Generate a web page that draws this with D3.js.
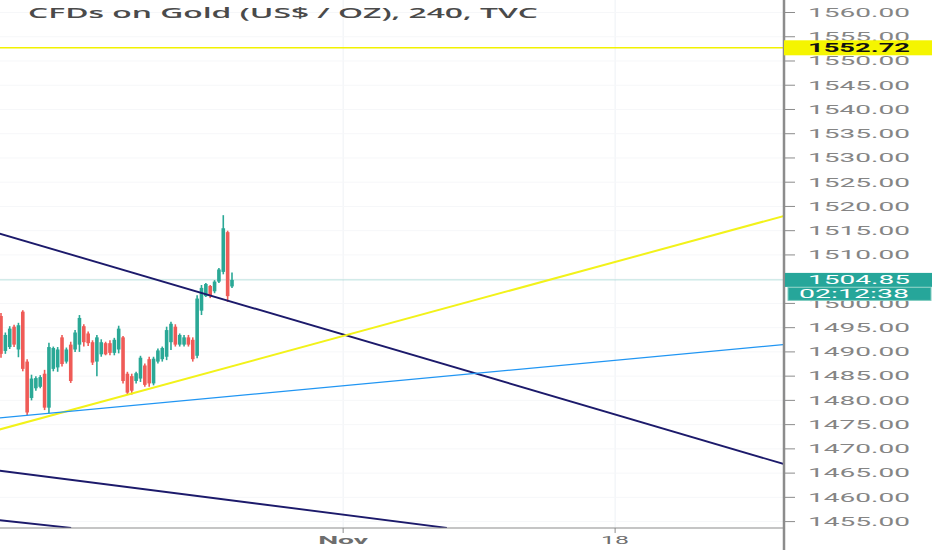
<!DOCTYPE html>
<html>
<head>
<meta charset="utf-8">
<script src="https://cdn.jsdelivr.net/npm/d3@7"></script>
<style>
body { margin: 0; background: #fff; }
svg { display: block; }
</style>
</head>
<body>
<div id="chart-area"></div>
<script>
// 4h candles, left to right
var opens  = [1497.4,1490.2,1491.0,1495.2,1490.5,1498.3,1488.0,1480.5,1482.5,1482.8,1485.5,1478.5,1486.5,1486.8,1493.0,1488.0,1491.5,1490.5,1491.5,1495.3,1493.8,1492.0,1488.0,1489.5,1491.8,1491.8,1489.8,1490.5,1493.0,1485.5,1485.0,1484.0,1484.5,1487.2,1488.5,1483.5,1488.0,1488.5,1489.0,1492.0,1495.2,1491.5,1491.5,1493.0,1492.5,1489.2,1498.5,1501.5,1503.6,1502.5,1504.5,1506.5,1514.7,1503.5];
var highs  = [1498.0,1494.0,1495.3,1495.6,1496.0,1498.6,1488.5,1485.3,1485.0,1485.2,1486.3,1491.9,1491.1,1491.0,1493.5,1490.9,1492.1,1494.5,1497.6,1495.7,1494.2,1492.4,1493.5,1492.6,1492.1,1492.4,1492.9,1495.4,1493.3,1485.9,1485.5,1485.9,1489.2,1487.6,1489.0,1489.0,1490.7,1491.1,1495.2,1496.2,1495.7,1493.8,1493.5,1493.5,1493.0,1501.7,1503.8,1504.2,1503.8,1504.8,1507.3,1518.2,1515.0,1506.4];
var lows   = [1488.8,1489.6,1490.6,1491.0,1488.9,1486.0,1477.0,1480.0,1482.0,1482.5,1478.0,1477.3,1486.0,1485.9,1487.0,1487.6,1483.6,1490.0,1490.0,1491.1,1491.2,1487.3,1485.0,1489.0,1489.3,1489.3,1489.3,1489.7,1483.5,1481.1,1481.2,1483.5,1483.8,1482.8,1482.8,1483.1,1487.6,1488.0,1488.3,1490.4,1491.1,1491.1,1491.1,1491.1,1488.0,1488.7,1497.6,1501.3,1501.1,1502.1,1504.2,1506.0,1500.3,1503.2];
var closes = [1489.6,1493.5,1494.8,1491.5,1495.5,1486.5,1477.5,1484.5,1484.6,1484.8,1478.5,1491.0,1490.8,1490.5,1487.5,1490.5,1484.0,1494.0,1497.0,1492.0,1491.8,1487.8,1493.0,1492.0,1489.5,1489.8,1492.5,1494.8,1484.0,1481.6,1482.0,1485.6,1488.8,1483.2,1483.5,1488.6,1490.3,1490.8,1494.5,1495.8,1491.5,1493.5,1493.0,1491.5,1488.5,1501.0,1503.2,1504.0,1501.5,1504.5,1507.0,1515.5,1501.5,1504.85];

var priceTicks = [1455,1460,1465,1470,1475,1480,1485,1490,1495,1500,1505,1510,1515,1520,1525,1530,1535,1540,1545,1550,1555,1560];
var dateTicks = [78.5, 140.9];          // bar index of the day labels
var dateLabels = ["Nov", "18"];

// drawings: [barIndex, price] pairs
var navyLines = [
  [[-0.3, 1514.4], [179.5, 1466.9]],
  [[-0.3, 1465.5], [102.3, 1453.7]],
  [[-0.3, 1455.3], [16.1, 1453.7]]
];
var yellowTrend = [[-0.3, 1474.0], [179.5, 1518.0]];
var blueTrend = [[-0.3, 1476.4], [179.5, 1491.5]];
var alertLevel = 1552.72;
var lastPrice = 1504.85;
var countdown = "02:12:38";
var title = "CFDs on Gold (US$ / OZ), 240, TVC";

var W = 932, H = 550;
var plotW = 783, plotH = 528;

var svg = d3.select("#chart-area").append("svg")
  .attr("width", W)
  .attr("height", H);

var x = d3.scaleLinear().domain([0, 53]).range([1, 232]);
var y = d3.scaleLinear().domain([1455, 1560]).range([521.6, 12.5]);

svg.append("clipPath").attr("id", "plot-clip")
  .append("rect").attr("x", 0).attr("y", 0).attr("width", plotW).attr("height", plotH);

var plot = svg.append("g").attr("clip-path", "url(#plot-clip)");

// grid
plot.selectAll(".vgrid").data(dateTicks).enter().append("line")
  .attr("x1", function(d){ return x(d); }).attr("x2", function(d){ return x(d); })
  .attr("y1", 0).attr("y2", plotH)
  .attr("stroke", "#eef1f5").attr("stroke-width", 1);

plot.selectAll(".hgrid").data(priceTicks).enter().append("line")
  .attr("x1", 0).attr("x2", plotW)
  .attr("y1", function(d){ return y(d); }).attr("y2", function(d){ return y(d); })
  .attr("stroke", "#f6f7f9").attr("stroke-width", 1);

// last price line
plot.append("line")
  .attr("x1", 0).attr("x2", plotW)
  .attr("y1", y(lastPrice)).attr("y2", y(lastPrice))
  .attr("stroke", "#26a69a").attr("stroke-opacity", 0.3).attr("stroke-width", 1);

// alert level
plot.append("line")
  .attr("x1", 0).attr("x2", plotW)
  .attr("y1", y(alertLevel)).attr("y2", y(alertLevel))
  .attr("stroke", "#f2f200").attr("stroke-width", 1.5);

var line = d3.line()
  .x(function(d){ return x(d[0]); })
  .y(function(d){ return y(d[1]); });

// candles
var idx = d3.range(opens.length);
var col = function(i){ return closes[i] >= opens[i] ? "#2aa896" : "#ef5b57"; };

plot.selectAll(".wick").data(idx).enter().append("line")
  .attr("x1", function(i){ return x(i); }).attr("x2", function(i){ return x(i); })
  .attr("y1", function(i){ return y(highs[i]); })
  .attr("y2", function(i){ return y(lows[i]); })
  .attr("stroke", col).attr("stroke-width", 1.6);

plot.selectAll(".body").data(idx).enter().append("rect")
  .attr("x", function(i){ return x(i) - 1.8; })
  .attr("width", 3.6)
  .attr("y", function(i){ return y(Math.max(opens[i], closes[i])); })
  .attr("height", function(i){ return Math.max(1, Math.abs(y(opens[i]) - y(closes[i]))); })
  .attr("fill", col);

// trend lines
plot.selectAll(".navy").data(navyLines).enter().append("path")
  .attr("d", line).attr("fill", "none")
  .attr("stroke", "#1c1a6b").attr("stroke-width", 1.9);

plot.append("path").attr("d", line(yellowTrend)).attr("fill", "none")
  .attr("stroke", "#f2f21a").attr("stroke-width", 2);

plot.append("path").attr("d", line(blueTrend)).attr("fill", "none")
  .attr("stroke", "#2196f3").attr("stroke-width", 1.3);

// price axis
var axisG = svg.append("g");
axisG.append("line")
  .attr("x1", plotW + 1).attr("x2", plotW + 1).attr("y1", 0).attr("y2", H)
  .attr("stroke", "#8c8c8c").attr("stroke-width", 2.5);

axisG.selectAll(".ptick").data(priceTicks).enter().append("line")
  .attr("x1", plotW + 2).attr("x2", plotW + 12)
  .attr("y1", function(d){ return y(d); }).attr("y2", function(d){ return y(d); })
  .attr("stroke", "#8c8c8c").attr("stroke-width", 1);

axisG.selectAll(".plabel").data(priceTicks).enter().append("text")
  .attr("x", 808).attr("y", function(d){ return y(d); })
  .attr("dy", "0.36em")
  .attr("textLength", 102).attr("lengthAdjust", "spacingAndGlyphs")
  .style("font-family", "Roboto, 'Liberation Sans', sans-serif")
  .style("font-size", "12px")
  .attr("fill", "#858585")
  .text(function(d){ return d3.format(".2f")(d); });

// time axis
svg.append("line")
  .attr("x1", 0).attr("x2", plotW).attr("y1", plotH).attr("y2", plotH)
  .attr("stroke", "#8c8c8c").attr("stroke-width", 1.2);

svg.selectAll(".dtick").data(dateTicks).enter().append("line")
  .attr("x1", function(d){ return x(d); }).attr("x2", function(d){ return x(d); })
  .attr("y1", plotH).attr("y2", plotH + 5)
  .attr("stroke", "#8c8c8c");

svg.selectAll(".dlabel").data(dateTicks).enter().append("text")
  .attr("x", function(d, i){ return x(d) - (i == 0 ? 25 : 14); })
  .attr("y", 544)
  .attr("textLength", function(d, i){ return i == 0 ? 50 : 28; })
  .attr("lengthAdjust", "spacingAndGlyphs")
  .style("font-family", "Roboto, 'Liberation Sans', sans-serif")
  .style("font-size", "11px")
  .style("font-weight", function(d, i){ return i == 0 ? "bold" : "normal"; })
  .attr("fill", "#6e6e6e")
  .text(function(d, i){ return dateLabels[i]; });

// alert label
svg.append("rect")
  .attr("x", plotW + 1).attr("y", y(alertLevel) - 7.5)
  .attr("width", W - plotW).attr("height", 15)
  .attr("fill", "#f5f500");
svg.append("text")
  .attr("x", 808).attr("y", y(alertLevel)).attr("dy", "0.36em")
  .attr("textLength", 102).attr("lengthAdjust", "spacingAndGlyphs")
  .style("font-family", "Roboto, 'Liberation Sans', sans-serif")
  .style("font-size", "12px").style("font-weight", "bold")
  .attr("fill", "#111")
  .text(alertLevel.toFixed(2));

// last price label + countdown
svg.append("rect")
  .attr("x", plotW + 2).attr("y", y(lastPrice) - 7)
  .attr("width", W - plotW).attr("height", 14)
  .attr("fill", "#26a69a");
svg.append("text")
  .attr("x", 808).attr("y", y(lastPrice)).attr("dy", "0.36em")
  .attr("textLength", 102).attr("lengthAdjust", "spacingAndGlyphs")
  .style("font-family", "Roboto, 'Liberation Sans', sans-serif")
  .style("font-size", "12px")
  .attr("fill", "#fff")
  .text(lastPrice.toFixed(2));

svg.append("rect")
  .attr("x", plotW + 5).attr("y", y(lastPrice) + 7.5)
  .attr("width", W - plotW - 6).attr("height", 13)
  .attr("fill", "#26a69a").attr("stroke", "#7fcbbf").attr("stroke-width", 1);
svg.append("text")
  .attr("x", 799).attr("y", y(lastPrice) + 14).attr("dy", "0.36em")
  .attr("textLength", 110).attr("lengthAdjust", "spacingAndGlyphs")
  .style("font-family", "Roboto, 'Liberation Sans', sans-serif")
  .style("font-size", "12px")
  .attr("fill", "#fff")
  .text(countdown);

// title
svg.append("text")
  .attr("x", 28).attr("y", 18)
  .attr("textLength", 510).attr("lengthAdjust", "spacingAndGlyphs")
  .style("font-family", "'Open Sans', sans-serif")
  .style("font-size", "14px").style("font-weight", "600")
  .attr("fill", "#4a4a4a")
  .text(title);
</script>
</body>
</html>
